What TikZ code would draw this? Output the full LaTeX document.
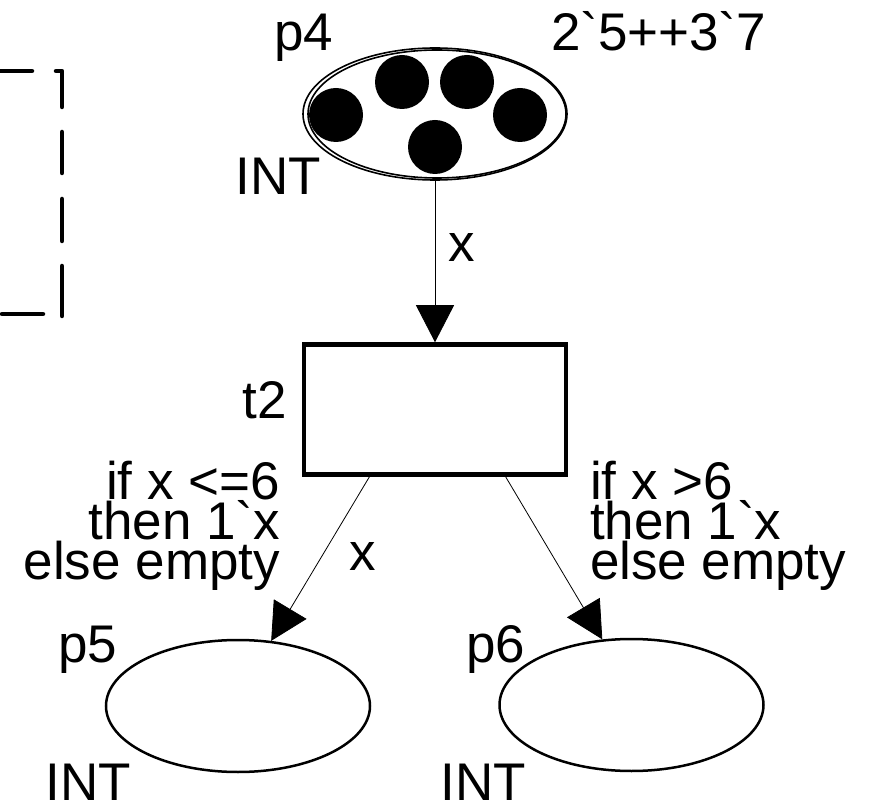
\documentclass[tikz,border=0pt]{standalone}
\usepackage{fontspec}
\setmainfont{Liberation Sans}
\usetikzlibrary{arrows.meta,calc,shapes.geometric}
\newcommand{\bq}{\textasciigrave}
\begin{document}
\begin{tikzpicture}[x=1pt,y=-1pt,
  every node/.style={inner sep=0pt,outer sep=0pt,font=\fontsize{53}{40}\selectfont},
  place/.style={draw,ellipse,line width=2.5pt,minimum width=264pt,minimum height=132pt,outer sep=0.5\pgflinewidth},
  trans/.style={draw,rectangle,line width=4.5pt,minimum width=262pt,minimum height=130pt,outer sep=0.5\pgflinewidth},
  token/.style={circle,fill=black,minimum size=54pt},
  arc/.style={line width=0.8pt,-{Triangle[length=37pt,width=38pt]}},
  fence/.style={line width=4.5pt,line cap=round,line join=round}]
\useasboundingbox (0,0) rectangle (871,802);

% dashed page boundary on the left
\draw[fence] (0,71) -- (32,71);
\draw[fence] (56,71) -- (62,71) -- (62,107);
\draw[fence] (62,132) -- (62,173);
\draw[fence] (62,199) -- (62,241);
\draw[fence] (62,266) -- (62,316);
\draw[fence] (2,314) -- (43,314);

% places and transition
\node[place,line width=1.6pt] (p4) at (435,114) {};
\draw[line width=1.6pt] (437,114) ellipse [x radius=129pt, y radius=64pt];
\node[trans] (t2) at (435,409.5) {};
\node[place] (p5) at (238,706) {};
\node[place] (p6) at (631.5,705) {};

% tokens of p4
\node[token] (k1) at (336,115) {};
\node[token] (k2) at (402,82) {};
\node[token] (k3) at (467,82) {};
\node[token] (k4) at (520,115) {};
\node[token] (k5) at (435,147) {};

% arcs
\draw[arc] (p4) -- (t2);
\draw[arc] ($(t2.south west)!0.254!(t2.south east)$) -- (p5.63);
\draw[arc] ($(t2.south west)!0.765!(t2.south east)$) -- (p6.114);

% inscriptions
\node[anchor=base east] (p4name) at (333,51) {p4};
\node[anchor=base west] (p4mark) at (551,51) {2\bq5++3\bq7};
\node[anchor=base east] (p4type) at (321,195) {INT};
\node[anchor=base west] (ain) at (448,262) {x};
\node[anchor=base east] (t2name) at (287,419) {t2};
\node[anchor=base east,align=right] (a5) at (280,579) {if x <=6\\then 1\bq x\\else empty};
\node[anchor=base west] (ax) at (349,570) {x};
\node[anchor=base west,align=left] (a6) at (590,579) {if x >6\\then 1\bq x\\else empty};
\node[anchor=base east] (p5name) at (117,662) {p5};
\node[anchor=base east] (p5type) at (131,800) {INT};
\node[anchor=base east] (p6name) at (525,662) {p6};
\node[anchor=base east] (p6type) at (526,800) {INT};
\end{tikzpicture}
\end{document}
